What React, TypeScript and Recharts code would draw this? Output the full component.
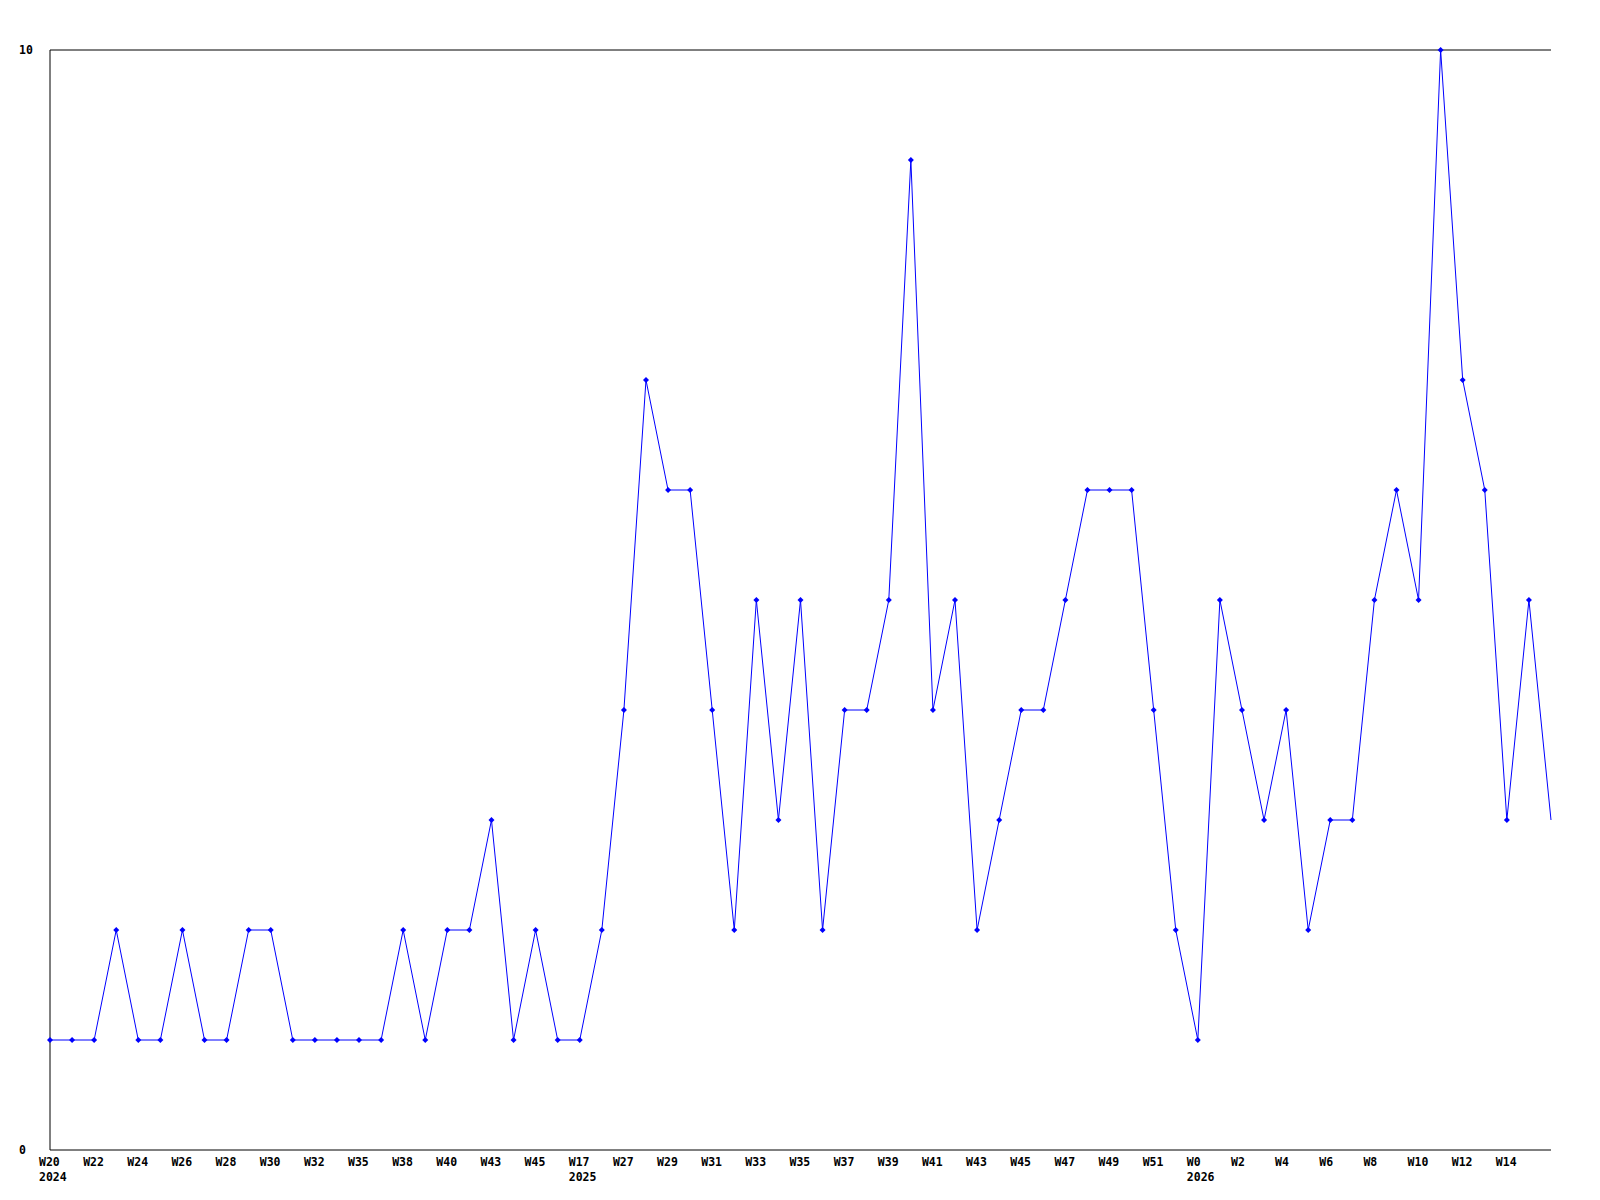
import { LineChart, Line, XAxis, YAxis, ReferenceLine } from 'recharts';

const weeks = [
  'W20', 'W21', 'W22', 'W23', 'W24', 'W25', 'W26', 'W27', 'W28', 'W29', 'W30', 'W31', 'W32', 'W33',
  'W35', 'W36', 'W38', 'W39', 'W40', 'W41', 'W43', 'W44', 'W45', 'W46',
  'W17', 'W26', 'W27', 'W28', 'W29', 'W30', 'W31', 'W32', 'W33', 'W34', 'W35', 'W36', 'W37', 'W38',
  'W39', 'W40', 'W41', 'W42', 'W43', 'W44', 'W45', 'W46', 'W47', 'W48', 'W49', 'W50', 'W51', 'W52',
  'W0', 'W1', 'W2', 'W3', 'W4', 'W5', 'W6', 'W7', 'W8', 'W9', 'W10', 'W11', 'W12', 'W13', 'W14', 'W15', 'W16',
];

// year shown under the first week of each year
const yearStarts: Record<number, string> = { 0: '2024', 24: '2025', 52: '2026' };

const counts = [
  1, 1, 1, 2, 1, 1, 2, 1, 1, 2, 2, 1, 1, 1, 1, 1, 2, 1, 2, 2, 3, 1, 2, 1,
  1, 2, 4, 7, 6, 6, 4, 2, 5, 3, 5, 2, 4, 4, 5, 9, 4, 5, 2, 3, 4, 4, 5, 6, 6, 6, 4, 2,
  1, 5, 4, 3, 4, 2, 3, 3, 5, 6, 5, 10, 7, 6, 3, 5, 3,
];

const yTicks = [0, 10];

const data = weeks.map((w, i) => ({ idx: i, week: w, year: yearStarts[i] ?? '', value: counts[i] }));

const FONT = '"DejaVu Sans Mono", monospace';
const BLUE = '#0000ff';
const LAST = counts.length - 1;

const XTick = (props: any) => {
  const { x, y, payload } = props;
  if (payload.value === LAST) return <g />;
  const d = data[payload.value];
  return (
    <g>
      <text x={x - 11} y={y + 4} textAnchor="start" dominantBaseline="central" fontFamily={FONT} fontSize={11.5} fontWeight="bold" fill="#000">
        {d.week}
      </text>
      {d.year && (
        <text x={x - 11} y={y + 19} textAnchor="start" dominantBaseline="central" fontFamily={FONT} fontSize={11.5} fontWeight="bold" fill="#000">
          {d.year}
        </text>
      )}
    </g>
  );
};

const YTick = (props: any) => {
  const { y, payload } = props;
  return (
    <text x={11} y={y} textAnchor="start" dominantBaseline="central" fontFamily={FONT} fontSize={11.5} fontWeight="bold" fill="#000">
      {payload.value}
    </text>
  );
};

const Dot = (props: any) => {
  const { cx, cy, index } = props;
  if (index === LAST) return <g key={index} />;
  return <path key={index} d={`M${cx},${cy - 3}L${cx + 3},${cy}L${cx},${cy + 3}L${cx - 3},${cy}Z`} fill={BLUE} />;
};

export default function App() {
  return (
    <LineChart width={1592} height={1192} data={data} margin={{ top: 42, right: 49, left: 12, bottom: 20 }}>
      <XAxis
        dataKey="idx"
        type="category"
        interval={1}
        tickLine={false}
        axisLine={{ stroke: '#000', strokeWidth: 1 }}
        tick={<XTick />}
        height={30}
      />
      <YAxis
        domain={[0, 10]}
        ticks={yTicks}
        width={30}
        tickLine={false}
        axisLine={{ stroke: '#000', strokeWidth: 1 }}
        tick={<YTick />}
      />
      <ReferenceLine y={10} stroke="#000" strokeWidth={1} />
      <Line
        type="linear"
        dataKey="value"
        stroke={BLUE}
        strokeWidth={1}
        dot={<Dot />}
        activeDot={false}
        isAnimationActive={false}
      />
    </LineChart>
  );
}
